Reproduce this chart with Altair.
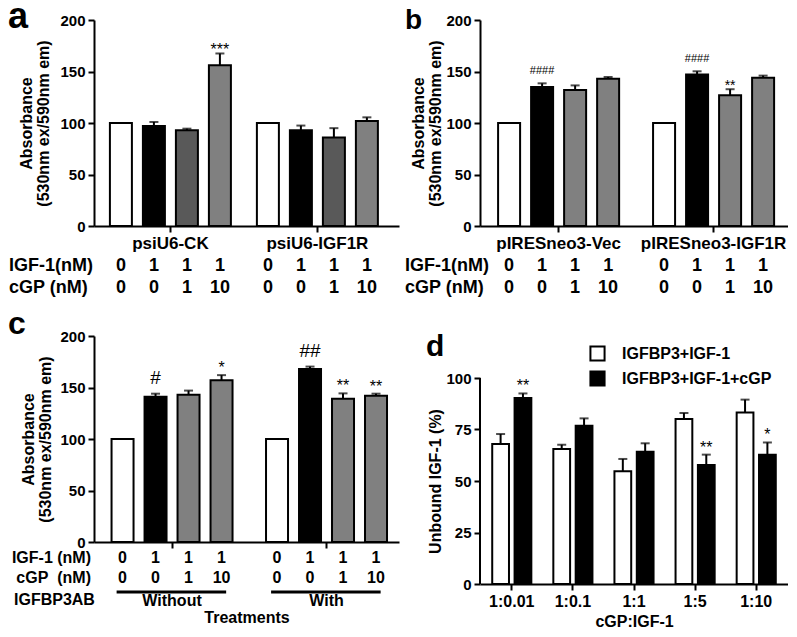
import altair as alt
import pandas as pd

FONT = "Liberation Sans"

# ---------------- data ----------------
conditions = ["ctrl", "igf", "igf_cgp1", "igf_cgp10"]
igf1_nm = ["0", "1", "1", "1"]
cgp_nm = ["0", "0", "1", "10"]

a_groups = ["psiU6-CK", "psiU6-IGF1R"]
a_mean = [100, 97, 93, 156, 100, 93, 86, 102]
a_err = [0, 4, 1.5, 11.5, 0, 4.5, 9, 3.5]
a_sig = ["", "", "", "***", "", "", "", ""]

b_groups = ["pIRESneo3-Vec", "pIRESneo3-IGF1R"]
b_mean = [100, 135, 132, 143, 100, 147, 127, 144]
b_err = [0, 3.5, 4.5, 1.7, 0, 3.2, 5.8, 2.0]
b_sig = ["", "####", "", "", "", "####", "**", ""]

c_groups = ["Without", "With"]
c_mean = [100, 141, 143, 157, 100, 168, 139, 142]
c_err = [0, 3, 4, 5, 0, 2.3, 5.3, 2]
c_sig = ["", "#", "", "*", "", "##", "**", "**"]

d_ratios = ["1:0.01", "1:0.1", "1:1", "1:5", "1:10"]
d_series = ["IGFBP3+IGF-1", "IGFBP3+IGF-1+cGP"]
d_white_mean = [68, 65.5, 54.7, 80.1, 83.3]
d_white_err = [4.8, 2.1, 6.0, 2.9, 6.2]
d_black_mean = [90.3, 76.8, 64.2, 57.8, 62.8]
d_black_err = [2.2, 3.6, 4.1, 5.0, 5.9]
d_black_sig = ["**", "", "", "**", "*"]

H = 206


def group_frame(groups, means, errs, sigs):
    rows = []
    i = 0
    for g in groups:
        for k, c in enumerate(conditions):
            rows.append(dict(group=g, cond=c, mean=means[i], err=errs[i], sig=sigs[i],
                             igf=igf1_nm[k], cgp=cgp_nm[k]))
            i += 1
    return pd.DataFrame(rows)


def label_layer(text, x, y, size=17, align="left", baseline="middle", weight="bold"):
    return alt.Chart(pd.DataFrame({"t": [text]})).mark_text(
        font=FONT, fontWeight=weight, fontSize=size, align=align, baseline=baseline, color="black"
    ).encode(text="t:N", x=alt.value(x), y=alt.value(y))


def bar_panel(df, groups, width, xpad, fills, x_axis, ytitle_pad, sig_specs, extra):
    xs = alt.Scale(domain=groups, paddingInner=xpad[0], paddingOuter=xpad[1], align=xpad[2])
    xo = alt.Scale(domain=conditions, paddingInner=1 / 3, paddingOuter=1 / 6)
    base = alt.Chart(df).encode(
        x=alt.X("group:N", scale=xs, axis=x_axis),
        xOffset=alt.XOffset("cond:N", scale=xo),
    )
    bars = base.mark_bar(stroke="black", strokeWidth=2).encode(
        y=alt.Y("mean:Q", scale=alt.Scale(domain=[0, 200], nice=False),
                axis=alt.Axis(values=[0, 50, 100, 150, 200],
                              title=["Absorbance", "(530nm ex/590nm em)"],
                              titlePadding=ytitle_pad)),
        fill=alt.Fill("cond:N", scale=alt.Scale(domain=conditions, range=fills), legend=None),
    )
    eb = base.transform_filter("datum.err > 0").transform_calculate(hi="datum.mean + datum.err")
    err = eb.mark_rule(color="black", strokeWidth=2).encode(y="mean:Q", y2="hi:Q")
    caps = eb.mark_tick(color="black", thickness=2, size=9).encode(y="hi:Q")
    layers = [bars, err, caps]
    for test, size, dy in sig_specs:
        layers.append(
            base.transform_filter(test).transform_calculate(hi="datum.mean + datum.err")
            .mark_text(font=FONT, fontSize=size, baseline="alphabetic", dy=dy, color="black")
            .encode(y="hi:Q", text="sig:N")
        )
    layers += extra(base)
    return alt.layer(*layers).properties(width=width, height=H)


ab_x_axis = alt.Axis(title=None, labelAngle=0, labelFontSize=17, labelPadding=3)


def ab_table(label_x):
    def f(base):
        return [
            base.mark_text(font=FONT, fontWeight="bold", fontSize=18, color="black").encode(
                y=alt.value(H + 40), text="igf:N"),
            base.mark_text(font=FONT, fontWeight="bold", fontSize=18, color="black").encode(
                y=alt.value(H + 62), text="cgp:N"),
            label_layer("IGF-1(nM)", label_x, H + 40, size=18),
            label_layer("cGP (nM)", label_x, H + 62, size=18),
        ]
    return f


# ---------------- panel a ----------------
df_a = group_frame(a_groups, a_mean, a_err, a_sig)
panel_a = bar_panel(
    df_a, a_groups, 305, (0.102, 0.0885, 0.4),
    ["#ffffff", "#000000", "#595959", "#808080"], ab_x_axis, 8,
    [("datum.sig != ''", 16, 2)],
    lambda base: ab_table(-85)(base) + [label_layer("a", -86, 8, size=36, baseline="alphabetic")],
)

# ---------------- panel b ----------------
df_b = group_frame(b_groups, b_mean, b_err, b_sig)
panel_b = bar_panel(
    df_b, b_groups, 308, (0.148, 0.0677, 0.6),
    ["#ffffff", "#000000", "#808080", "#808080"], ab_x_axis, 2,
    [("indexof(datum.sig, '#') >= 0", 11, -9), ("indexof(datum.sig, '*') >= 0", 14, 1)],
    lambda base: ab_table(-75)(base) + [label_layer("b", -75, 9, size=28, baseline="alphabetic")],
)

# ---------------- panel c ----------------
df_c = group_frame(c_groups, c_mean, c_err, c_sig)
c_x_axis = alt.Axis(title="Treatments", labels=False, titlePadding=60, titleFontSize=16)


def c_extra(base):
    grp = alt.Chart(pd.DataFrame({"group": c_groups}))
    return [
        base.mark_text(font=FONT, fontWeight="bold", fontSize=16, color="black").encode(
            y=alt.value(H + 16), text="igf:N"),
        base.mark_text(font=FONT, fontWeight="bold", fontSize=16, color="black").encode(
            y=alt.value(H + 36), text="cgp:N"),
        grp.mark_rule(color="black", strokeWidth=3).encode(
            x=alt.X("group:N", bandPosition=0.08),
            x2=alt.X2("group:N", bandPosition=0.91),
            y=alt.value(H + 50)),
        grp.mark_text(font=FONT, fontWeight="bold", fontSize=16, color="black", baseline="middle").encode(
            x="group:N", y=alt.value(H + 59), text="group:N"),
        label_layer("IGF-1 (nM)", -3, H + 16, size=16, align="right"),
        label_layer("cGP\u00a0\u00a0(nM)", -3, H + 36, size=16, align="right"),
        label_layer("IGFBP3AB", -80, H + 58, size=16),
        label_layer("c", -86, -2, size=32, baseline="alphabetic"),
    ]


panel_c = bar_panel(
    df_c, c_groups, 305, (0.1456, 0.06, 0.65),
    ["#ffffff", "#000000", "#808080", "#808080"], c_x_axis, 6,
    [("indexof(datum.sig, '#') >= 0", 19, -10), ("indexof(datum.sig, '*') >= 0", 16, -2)],
    c_extra,
)

# ---------------- panel d ----------------
rows = []
for i, r in enumerate(d_ratios):
    rows.append(dict(ratio=r, series=d_series[0], mean=d_white_mean[i], err=d_white_err[i], sig=""))
    rows.append(dict(ratio=r, series=d_series[1], mean=d_black_mean[i], err=d_black_err[i], sig=d_black_sig[i]))
df_d = pd.DataFrame(rows)

HD = 248
d_ymax = 100 * HD / H
d_base = alt.Chart(df_d).encode(
    x=alt.X("ratio:N", scale=alt.Scale(domain=d_ratios, paddingInner=0.36, paddingOuter=0.2),
            axis=alt.Axis(title="cGP:IGF-1", labelAngle=0, labelFontSize=16, titlePadding=4,
                          titleFontSize=16)),
    xOffset=alt.XOffset("series:N", scale=alt.Scale(domain=d_series, paddingInner=0.25, paddingOuter=0)),
)
d_bars = d_base.mark_bar(stroke="black", strokeWidth=2).encode(
    y=alt.Y("mean:Q", scale=alt.Scale(domain=[0, d_ymax], nice=False),
            axis=alt.Axis(values=[0, 25, 50, 75, 100], domain=False, title="Unbound IGF-1 (%)",
                          titleY=HD - H / 2, titlePadding=2)),
    fill=alt.Fill("series:N", scale=alt.Scale(domain=d_series, range=["#ffffff", "#000000"]),
                  legend=alt.Legend(orient="none", legendX=109, legendY=9, title=None,
                                    symbolType="square", symbolSize=200, symbolStrokeColor="black",
                                    symbolStrokeWidth=2, labelFont=FONT, labelFontWeight="bold",
                                    labelFontSize=16, labelColor="black", labelOffset=16,
                                    rowPadding=2, padding=0, labelLimit=300)),
)
d_eb = d_base.transform_calculate(hi="datum.mean + datum.err")
d_err = d_eb.mark_rule(color="black", strokeWidth=2).encode(y="mean:Q", y2="hi:Q")
d_caps = d_eb.mark_tick(color="black", thickness=2, size=9).encode(y="hi:Q")
d_sig = d_eb.transform_filter("datum.sig != ''").mark_text(
    font=FONT, fontSize=16, baseline="alphabetic", dy=-2, color="black").encode(y="hi:Q", text="sig:N")
d_axisline = alt.Chart(pd.DataFrame({"lo": [0], "hi": [100]})).mark_rule(
    color="black", strokeWidth=2).encode(x=alt.value(0), y="lo:Q", y2="hi:Q")
panel_d = alt.layer(
    d_bars, d_err, d_caps, d_sig, d_axisline,
    label_layer("d", -54, 20, size=30, baseline="alphabetic"),
).properties(width=308, height=HD)

chart = alt.concat(
    panel_a, panel_b, panel_c, panel_d,
    columns=2, spacing={"row": 110, "column": 81}, bounds="flush",
).resolve_scale(
    x="independent", y="independent", xOffset="independent", fill="independent"
).configure_view(stroke=None).configure_axis(
    labelFont=FONT, labelFontWeight="bold", labelFontSize=15, labelColor="black",
    titleFont=FONT, titleFontWeight="bold", titleFontSize=16, titleColor="black",
    titleLineHeight=17, domainColor="black", domainWidth=2, tickColor="black",
    tickWidth=2, tickSize=6, labelPadding=3, grid=False,
).properties(padding={"top": -9, "left": 0, "right": 0, "bottom": 0})

chart.save("out.html", embed_options={"renderer": "svg", "actions": False})
